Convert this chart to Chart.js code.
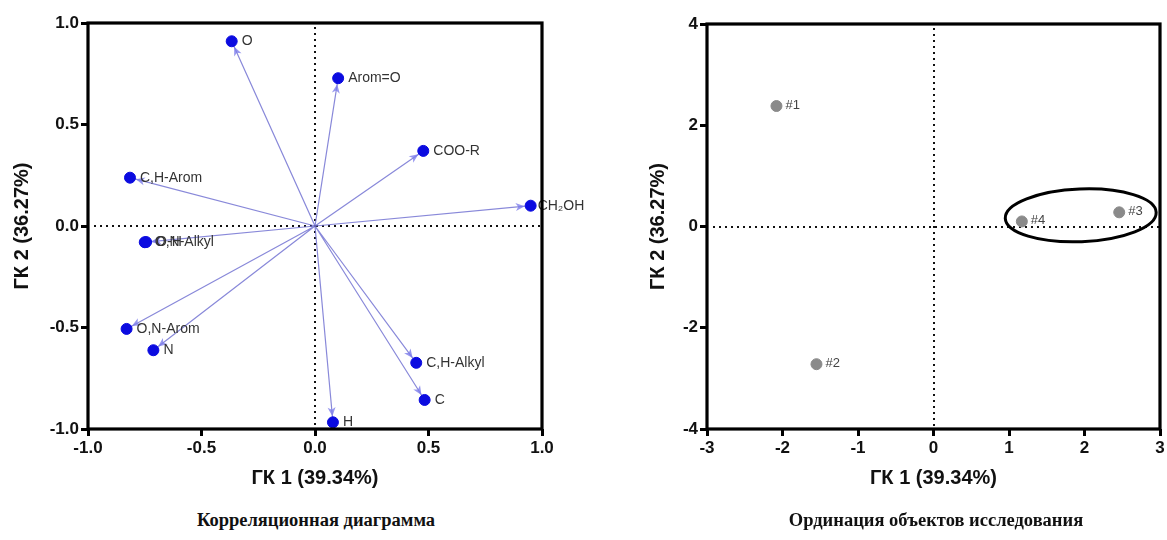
<!DOCTYPE html>
<html><head><meta charset="utf-8">
<script src="https://cdn.jsdelivr.net/npm/chart.js@4.4.1/dist/chart.umd.min.js"></script>
<style>
html,body{margin:0;padding:0;background:#fff;width:1167px;height:540px;overflow:hidden;position:relative;}
.box{position:absolute;top:0;height:510px;}
.cap{position:absolute;top:510px;font-family:"Liberation Serif","DejaVu Serif",serif;font-weight:bold;font-size:18.5px;color:#111;white-space:nowrap;transform:translateX(-50%);}
</style></head><body>
<div class="box" style="left:0;width:600px;"><canvas id="c1" width="600" height="510"></canvas></div>
<div class="box" style="left:583px;width:604px;"><canvas id="c2" width="604" height="510"></canvas></div>
<div class="cap" style="left:316px;">Корреляционная диаграмма</div>
<div class="cap" style="left:936px;">Ординация объектов исследования</div>
<script>
// ---- Correlation diagram (loadings) ----
const varNames = ['O','Arom=O','COO-R','CH\u2082OH','C,H-Arom','O,N-Alkyl','O-H','O,N-Arom','N','H','C,H-Alkyl','C'];
const varPC1   = [-0.367, 0.102, 0.477, 0.950, -0.815, -0.750, -0.744, -0.830, -0.712, 0.079, 0.446, 0.483];
const varPC2   = [ 0.910, 0.728, 0.370, 0.100,  0.238, -0.080, -0.079, -0.507, -0.612, -0.967, -0.674, -0.857];
const corrTicks = [-1.0, -0.5, 0.0, 0.5, 1.0];

// ---- Ordination of objects (scores) ----
const objNames = ['#1','#2','#3','#4'];
const objPC1   = [-2.08, -1.55, 2.46, 1.17];
const objPC2   = [ 2.38, -2.72, 0.28, 0.10];
const ordTicksX = [-3,-2,-1,0,1,2,3];
const ordTicksY = [-4,-2,0,2,4];

const xTitle = 'ГК 1 (39.34%)';
const yTitle = 'ГК 2 (36.27%)';

const FONT = "'Liberation Sans', Arial, sans-serif";

const framePlugin = {
  id:'frame',
  beforeDatasetsDraw(chart){
    const {ctx, chartArea:a, scales:{x,y}} = chart;
    ctx.save();
    ctx.strokeStyle = '#111'; ctx.lineWidth = 2; ctx.setLineDash([2,4]);
    const x0 = Math.round(x.getPixelForValue(0)), y0 = Math.round(y.getPixelForValue(0));
    ctx.beginPath(); ctx.moveTo(x0, a.top+4); ctx.lineTo(x0, a.bottom); ctx.stroke();
    ctx.beginPath(); ctx.moveTo(a.left+6, y0); ctx.lineTo(a.right, y0); ctx.stroke();
    ctx.restore();
  },
  afterDraw(chart){
    const {ctx, chartArea:a} = chart;
    ctx.save();
    ctx.strokeStyle = '#000'; ctx.lineWidth = 3.2;
    ctx.strokeRect(a.left, a.top, a.right-a.left, a.bottom-a.top);
    ctx.restore();
  }
};

const arrowPlugin = {
  id:'arrows',
  afterDatasetDraw(chart, args){
    if (args.index !== 0 || chart.canvas.id !== 'c1') return;
    const {ctx, scales:{x,y}} = chart;
    const ox = x.getPixelForValue(0), oy = y.getPixelForValue(0);
    ctx.save();
    ctx.fillStyle = 'rgba(125,125,235,0.8)';
    for (let i=0;i<varPC1.length;i++){
      const px = x.getPixelForValue(varPC1[i]), py = y.getPixelForValue(varPC2[i]);
      const dx = px-ox, dy = py-oy, L = Math.hypot(dx,dy);
      const ux = dx/L, uy = dy/L;
      const tx = px-ux*6, ty = py-uy*6;
      const bx = tx-ux*9, by = ty-uy*9;
      ctx.beginPath();
      ctx.moveTo(tx,ty);
      ctx.lineTo(bx-uy*4, by+ux*4);
      ctx.lineTo(bx+ux*2.5, by+uy*2.5);
      ctx.lineTo(bx+uy*4, by-ux*4);
      ctx.closePath(); ctx.fill();
    }
    ctx.restore();
  }
};

const labelPlugin = {
  id:'ptlabels',
  afterDatasetsDraw(chart, args, opts){
    const {ctx} = chart;
    const meta = chart.getDatasetMeta(opts.dataset);
    ctx.save();
    ctx.font = opts.font; ctx.fillStyle = opts.color;
    ctx.textBaseline = 'middle'; ctx.textAlign = 'left';
    meta.data.forEach((el,i)=>{
      const dx = (opts.dxs && opts.dxs[i] != null) ? opts.dxs[i] : opts.dx;
      ctx.fillText(opts.names[i], el.x + dx, el.y + opts.dy);
    });
    ctx.restore();
  }
};

const ellipsePlugin = {
  id:'ellipse',
  afterDatasetsDraw(chart, args, opts){
    if (!opts || !opts.show) return;
    const {ctx, scales:{x,y}} = chart;
    const cx = x.getPixelForValue(opts.cx), cy = y.getPixelForValue(opts.cy);
    const rx = Math.abs(x.getPixelForValue(opts.cx+opts.rx)-cx);
    const ry = Math.abs(y.getPixelForValue(opts.cy+opts.ry)-cy);
    ctx.save();
    ctx.strokeStyle = '#000'; ctx.lineWidth = 3;
    ctx.beginPath(); ctx.ellipse(cx, cy, rx, ry, opts.rot, 0, Math.PI*2); ctx.stroke();
    ctx.restore();
  }
};

function axes(minX,maxX,ticksX,minY,maxY,ticksY,fmt,yW,xH,yTitlePad){
  return {
    x:{type:'linear',min:minX,max:maxX,
       afterBuildTicks(s){ s.ticks = ticksX.map(v=>({value:v})); },
       afterFit(s){ s.height = xH; },
       grid:{display:true,drawOnChartArea:false,drawTicks:true,tickLength:7,tickWidth:3,tickColor:'#000'},
       border:{display:false},
       ticks:{color:'#111',font:{family:FONT,size:17,weight:'bold'},padding:2,maxRotation:0,callback:fmt},
       title:{display:true,text:xTitle,color:'#111',font:{family:FONT,size:20,weight:'bold'},padding:{top:0,bottom:20}}},
    y:{type:'linear',min:minY,max:maxY,
       afterBuildTicks(s){ s.ticks = ticksY.map(v=>({value:v})); },
       afterFit(s){ s.width = yW; },
       grid:{display:true,drawOnChartArea:false,drawTicks:true,tickLength:7,tickWidth:3,tickColor:'#000'},
       border:{display:false},
       ticks:{color:'#111',font:{family:FONT,size:17,weight:'bold'},padding:2,callback:fmt},
       title:{display:true,text:yTitle,color:'#111',font:{family:FONT,size:20,weight:'bold'},padding:{top:yTitlePad,bottom:0}}}
  };
}

Chart.register(framePlugin);

const arrowData = [];
varPC1.forEach((v,i)=>{ arrowData.push({x:0,y:0},{x:v,y:varPC2[i]},{x:NaN,y:NaN}); });

new Chart(document.getElementById('c1'), {
  type:'scatter',
  data:{datasets:[
    {data:arrowData, showLine:true, spanGaps:false, borderColor:'rgba(115,115,210,0.85)', borderWidth:1.2, pointRadius:0, order:2},
    {data:varPC1.map((v,i)=>({x:v,y:varPC2[i]})), backgroundColor:'#0b0be0', borderColor:'#0b0be0', pointRadius:5.5, pointHoverRadius:5.5, order:1}
  ]},
  options:{
    responsive:false, animation:false, events:[],
    layout:{padding:{left:0,top:23,right:58,bottom:0}},
    plugins:{legend:{display:false},tooltip:{enabled:false},
      ptlabels:{dataset:1,names:varNames,font:"14px "+FONT,color:'#333',dx:10,dxs:[null,null,null,7,null,null,null,null,null,null,null,null],dy:0}},
    scales:axes(-1,1,corrTicks,-1,1,corrTicks,v=>Number(v).toFixed(1),88,81,10)
  },
  plugins:[arrowPlugin,labelPlugin]
});

new Chart(document.getElementById('c2'), {
  type:'scatter',
  data:{datasets:[
    {data:objPC1.map((v,i)=>({x:v,y:objPC2[i]})), backgroundColor:'#8a8a8a', borderColor:'#8a8a8a', pointRadius:5.5, pointHoverRadius:5.5}
  ]},
  options:{
    responsive:false, animation:false, events:[],
    layout:{padding:{left:0,top:24,right:27,bottom:0}},
    plugins:{legend:{display:false},tooltip:{enabled:false},
      ptlabels:{dataset:0,names:objNames,font:"13px "+FONT,color:'#444',dx:9,dy:-1},
      ellipse:{show:true,cx:1.95,cy:0.22,rx:1.0,ry:0.52,rot:-0.04}},
    scales:axes(-3,3,ordTicksX,-4,4,ordTicksY,v=>String(v),124,81,63)
  },
  plugins:[labelPlugin,ellipsePlugin]
});
</script>
</body></html>
